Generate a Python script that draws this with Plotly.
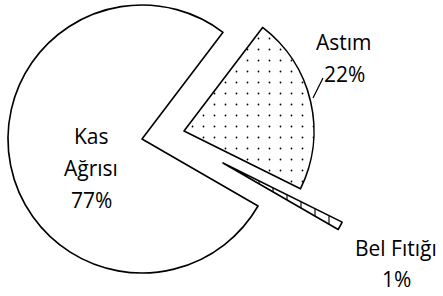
import plotly.graph_objects as go

# ---- data ----
labels = ["Kas<br>Ağrısı", "Astım", "Bel Fıtığı"]
values = [77, 22, 1]
patterns = ["", ".", "|"]

W, H = 443, 296

# per-slice placement (pixel centre of slice apex, radius) - layout only
apex = [(142, 139, 134), (184, 131, 130), (223, 163, 133)]
# label line centres (pixel) - layout only
label_pos = [(91, 136, 32), (344, 42, 32), (396, 248, 31)]


def dom(cx, cy, r):
    return dict(x=[(cx - r) / W, (cx + r) / W],
                y=[1 - (cy + r) / H, 1 - (cy - r) / H])


fig = go.Figure()
for i, (cx, cy, r) in enumerate(apex):
    n = len(values)
    fig.add_trace(go.Pie(
        labels=[l.replace("<br>", " ") for l in labels],
        values=values,
        sort=False,
        direction="clockwise",
        rotation=120,
        textinfo="none",
        hoverinfo="none",
        showlegend=False,
        domain=dom(cx, cy, r),
        marker=dict(
            colors=["white" if j == i else "rgba(0,0,0,0)" for j in range(n)],
            line=dict(color="black", width=[1.6 if j == i else 0 for j in range(n)]),
            pattern=dict(
                shape=[patterns[j] if j == i else "" for j in range(n)],
                fgcolor="black",
                bgcolor="white",
                size=[11 if patterns[j] == "." else 14 for j in range(n)],
                solidity=[0.02 if patterns[j] == "." else 0.08 for j in range(n)],
            ),
        ),
    ))

font = dict(family="Open Sans", size=21, color="black")
for i, lab in enumerate(labels):
    cx, cy, sp = label_pos[i]
    lines = lab.split("<br>") + [f"{values[i]}%"]
    for k, t in enumerate(lines):
        fig.add_annotation(x=cx / W, y=1 - (cy + k * sp) / H, xref="paper", yref="paper",
                           text=t, showarrow=False, font=font,
                           xanchor="center", yanchor="middle")

# leader line for Astım
fig.add_shape(type="line", xref="paper", yref="paper",
              x0=323 / W, y0=1 - 78 / H, x1=313 / W, y1=1 - 98 / H,
              line=dict(color="black", width=1.3))

fig.update_layout(width=W, height=H, margin=dict(l=0, r=0, t=0, b=0),
                  paper_bgcolor="white", plot_bgcolor="white")
fig.write_html("out.html", config={"displayModeBar": False},
               post_script="document.body.style.margin='0';document.body.style.overflow='hidden';")
